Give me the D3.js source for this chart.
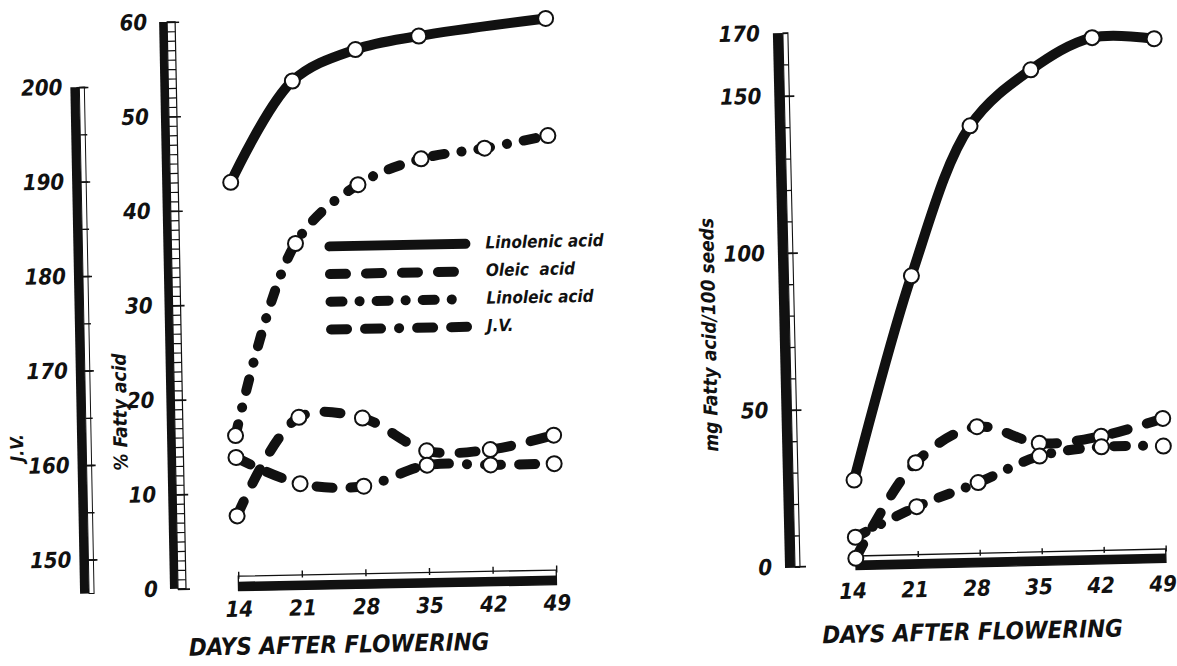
<!DOCTYPE html>
<html lang="en">
<head>
<meta charset="UTF-8">
<title>Fatty acids during ripening</title>
<script src="https://cdn.jsdelivr.net/npm/d3@7"></script>
<style>
    body { margin: 0; background: #fff; }
    text { font-family: "DejaVu Sans Condensed", "DejaVu Sans", sans-serif; font-style: italic; font-weight: bold; fill: #111; }
</style>
</head>
<body>
<div id="chart-space"></div>
<script>

// values
var days = [14, 21, 28, 35, 42, 49];

// left panel, % of fatty acids (no linolenic reading at day 42)
var pctLinolenic = [42.9, 53.5, 56.7, 58.0, null, 59.6];
var pctOleic = [7.6, 17.9, 17.7, 14.1, 14.1, 15.5];
var pctLinoleic = [16.1, 36.3, 42.4, 45.0, 46.0, 47.2];
var iodineValue = [160.5, 157.6, 157.2, 159.3, 159.2, 159.2];

// right panel, mg fatty acid / 100 seeds
var mgLinolenic = [27.2, 91.8, 139.1, 156.5, 166.3, 165.5];
var mgOleic = [2.3, 32.3, 43.3, 37.6, 39.4, 44.6];
var mgLinoleic = [9.0, 18.3, 25.5, 33.5, 36.0, 35.8];

var pctTicks = [0, 10, 20, 30, 40, 50, 60];
var jvTicks = [150, 160, 170, 180, 190, 200];
var mgTicks = [0, 50, 100, 150, 170];
var legendNames = ["Linolenic acid", "Oleic  acid", "Linoleic acid", "J.V."];

var width = 1177;
var height = 666;
var ink = "#111";

// line styles
var dashes = {
    linolenic: null,
    oleic: "16,20",
    linoleic: "12,17,0.1,17",
    jv: "16,18,16,18,0.1,18"
};

var svg = d3.select("#chart-space")
    .append("svg")
    .attr("width", width)
    .attr("height", height);

svg.append("rect").attr("width", width).attr("height", height).attr("fill", "#fff");

// the scan is a little skewed, so each panel is turned slightly
var gL = svg.append("g").attr("transform", "rotate(-1.1,170,589)");
var gR = svg.append("g").attr("transform", "rotate(-1.3,790,567)");

// scales
var xL = d3.scaleLinear().domain([14, 49]).range([238.5, 556.5]);
var pct = d3.scaleLinear().domain([0, 60]).range([589, 22]);
var jv = d3.scaleLinear().domain([150, 200]).range([558, 85.5]);
var xR = d3.scaleLinear().domain([14, 49]).range([856, 1166]);
var mg = d3.scaleLinear().domain([0, 170]).range([567, 33]);

function ticksOnly(g, axis, tx, ty, sw) {
    g.append("g")
        .attr("transform", "translate(" + tx + "," + ty + ")")
        .call(axis.tickFormat(""))
        .call(function(a) { a.select(".domain").remove(); })
        .selectAll("line")
        .attr("stroke", ink)
        .attr("stroke-width", sw);
}

function labels(g, axis, tx, ty, size) {
    var a = g.append("g")
        .attr("transform", "translate(" + tx + "," + ty + ")")
        .call(axis.tickSize(0).tickPadding(0));
    a.select(".domain").remove();
    a.attr("font-size", size).attr("font-family", null);
    return a;
}

// ---------- left panel axes ----------
// iodine value ruler
gL.append("rect").attr("x", 80).attr("y", jv(200)).attr("width", 9)
    .attr("height", pct(0) + 3 - jv(200)).attr("fill", ink);
gL.append("rect").attr("x", 89).attr("y", jv(200)).attr("width", 5)
    .attr("height", pct(0) + 3 - jv(200)).attr("fill", "#fff").attr("stroke", ink).attr("stroke-width", 1);
ticksOnly(gL, d3.axisRight(jv).tickValues(d3.range(150, 201, 5)).tickSize(7), 89, 0, 1.4);
ticksOnly(gL, d3.axisRight(jv).tickValues(jvTicks).tickSize(12), 86, 0, 1.6);
labels(gL, d3.axisLeft(jv).tickValues(jvTicks), 72, 0, 22);

// % fatty acid ruler
gL.append("rect").attr("x", 170).attr("y", pct(60)).attr("width", 8)
    .attr("height", pct(0) - pct(60)).attr("fill", ink);
gL.append("rect").attr("x", 178).attr("y", pct(60)).attr("width", 8)
    .attr("height", pct(0) - pct(60)).attr("fill", "#fff").attr("stroke", ink).attr("stroke-width", 1.2);
ticksOnly(gL, d3.axisRight(pct).tickValues(d3.range(0, 61, 1)).tickSize(8), 178, 0, 1.2);
ticksOnly(gL, d3.axisRight(pct).tickValues(pctTicks).tickSize(12), 178, 0, 1.6);
labels(gL, d3.axisLeft(pct).tickValues(pctTicks), 158, 0, 22);

// days ruler
gL.append("rect").attr("x", xL(14)).attr("y", 577.5).attr("width", xL(49) - xL(14)).attr("height", 14.5)
    .attr("fill", "#fff").attr("stroke", ink).attr("stroke-width", 1.3);
gL.append("rect").attr("x", xL(14)).attr("y", 583).attr("width", xL(49) - xL(14)).attr("height", 9)
    .attr("fill", ink);
ticksOnly(gL, d3.axisTop(xL).tickValues(days).tickSize(7), 0, 580, 1.4);
labels(gL, d3.axisBottom(xL).tickValues(days), 0, 618, 22)
    .selectAll("text").attr("y", 0).attr("dy", 0);

gL.append("text").attr("transform", "translate(26,445) rotate(-90)")
    .attr("text-anchor", "middle").attr("font-size", 18).text("J.V.");
gL.append("text").attr("transform", "translate(130,411) rotate(-90)")
    .attr("text-anchor", "middle").attr("font-size", 19).text("% Fatty acid");
gL.append("text").attr("x", 338).attr("y", 656).attr("text-anchor", "middle")
    .attr("font-size", 24).text("DAYS AFTER FLOWERING");

// ---------- right panel axes ----------
gR.append("rect").attr("x", 785).attr("y", mg(170)).attr("width", 10)
    .attr("height", mg(0) - mg(170)).attr("fill", ink);
gR.append("rect").attr("x", 795).attr("y", mg(170)).attr("width", 5)
    .attr("height", mg(0) - mg(170)).attr("fill", "#fff").attr("stroke", ink).attr("stroke-width", 1.1);
ticksOnly(gR, d3.axisRight(mg).tickValues(d3.range(0, 171, 10)).tickSize(5), 795, 0, 1.3);
ticksOnly(gR, d3.axisRight(mg).tickValues([50, 100, 150]).tickSize(10), 795, 0, 1.6);
gR.append("line").attr("x1", 785).attr("x2", 806).attr("y1", mg(0)).attr("y2", mg(0))
    .attr("stroke", ink).attr("stroke-width", 1.6);
labels(gR, d3.axisLeft(mg).tickValues(mgTicks), 772, 0, 22);

gR.append("rect").attr("x", xR(14)).attr("y", 557.5).attr("width", xR(49) - xR(14)).attr("height", 13.5)
    .attr("fill", "#fff").attr("stroke", ink).attr("stroke-width", 1.3);
gR.append("rect").attr("x", xR(14)).attr("y", 562).attr("width", xR(49) - xR(14)).attr("height", 9)
    .attr("fill", ink);
ticksOnly(gR, d3.axisTop(xR).tickValues(days).tickSize(6), 0, 560, 1.4);
labels(gR, d3.axisBottom(xR).tickValues(days), 0, 600, 22)
    .selectAll("text").attr("y", 0).attr("dy", 0).attr("dx", -4);

gR.append("text").attr("transform", "translate(721,333) rotate(-90)")
    .attr("text-anchor", "middle").attr("font-size", 19).text("mg Fatty acid/100 seeds");
gR.append("text").attr("x", 971).attr("y", 644).attr("text-anchor", "middle")
    .attr("font-size", 24).text("DAYS AFTER FLOWERING");

// ---------- series ----------
function points(values) {
    return days.map(function(d, i) { return {day: d, v: values[i]}; })
        .filter(function(p) { return p.v != null; });
}

function drawLine(g, x, y, values, dash) {
    var line = d3.line()
        .x(function(p) { return x(p.day); })
        .y(function(p) { return y(p.v); })
        .curve(d3.curveCatmullRom.alpha(0.5));
    g.append("path")
        .datum(points(values))
        .attr("d", line)
        .attr("fill", "none")
        .attr("stroke", ink)
        .attr("stroke-width", 10)
        .attr("stroke-linecap", "round")
        .attr("stroke-dasharray", dash);
}

function drawDots(g, x, y, values) {
    g.append("g").selectAll("circle")
        .data(points(values))
        .join("circle")
        .attr("cx", function(p) { return x(p.day); })
        .attr("cy", function(p) { return y(p.v); })
        .attr("r", 7.5)
        .attr("fill", "#fff")
        .attr("stroke", ink)
        .attr("stroke-width", 2);
}

var leftSeries = [
    [pctLinolenic, pct, dashes.linolenic],
    [pctOleic, pct, dashes.oleic],
    [pctLinoleic, pct, dashes.linoleic],
    [iodineValue, jv, dashes.jv]
];
var rightSeries = [
    [mgLinolenic, mg, dashes.linolenic],
    [mgOleic, mg, dashes.oleic],
    [mgLinoleic, mg, dashes.linoleic]
];

leftSeries.forEach(function(s) { drawLine(gL, xL, s[1], s[0], s[2]); });
rightSeries.forEach(function(s) { drawLine(gR, xR, s[1], s[0], s[2]); });
leftSeries.forEach(function(s) { drawDots(gL, xL, s[1], s[0]); });
rightSeries.forEach(function(s) { drawDots(gR, xR, s[1], s[0]); });

// ---------- legend ----------
var legendDash = [dashes.linolenic, dashes.oleic, dashes.linoleic, dashes.jv];
var legend = gL.append("g");
legendNames.forEach(function(name, i) {
    var ly = 249.5 + i * 27.7;
    legend.append("line")
        .attr("x1", 336).attr("x2", 472).attr("y1", ly).attr("y2", ly)
        .attr("stroke", ink).attr("stroke-width", 10)
        .attr("stroke-linecap", "round")
        .attr("stroke-dasharray", legendDash[i]);
    legend.append("text")
        .attr("x", 492).attr("y", ly + 5)
        .attr("font-size", 17)
        .attr("xml:space", "preserve")
        .text(name);
});

</script>
</body>
</html>
